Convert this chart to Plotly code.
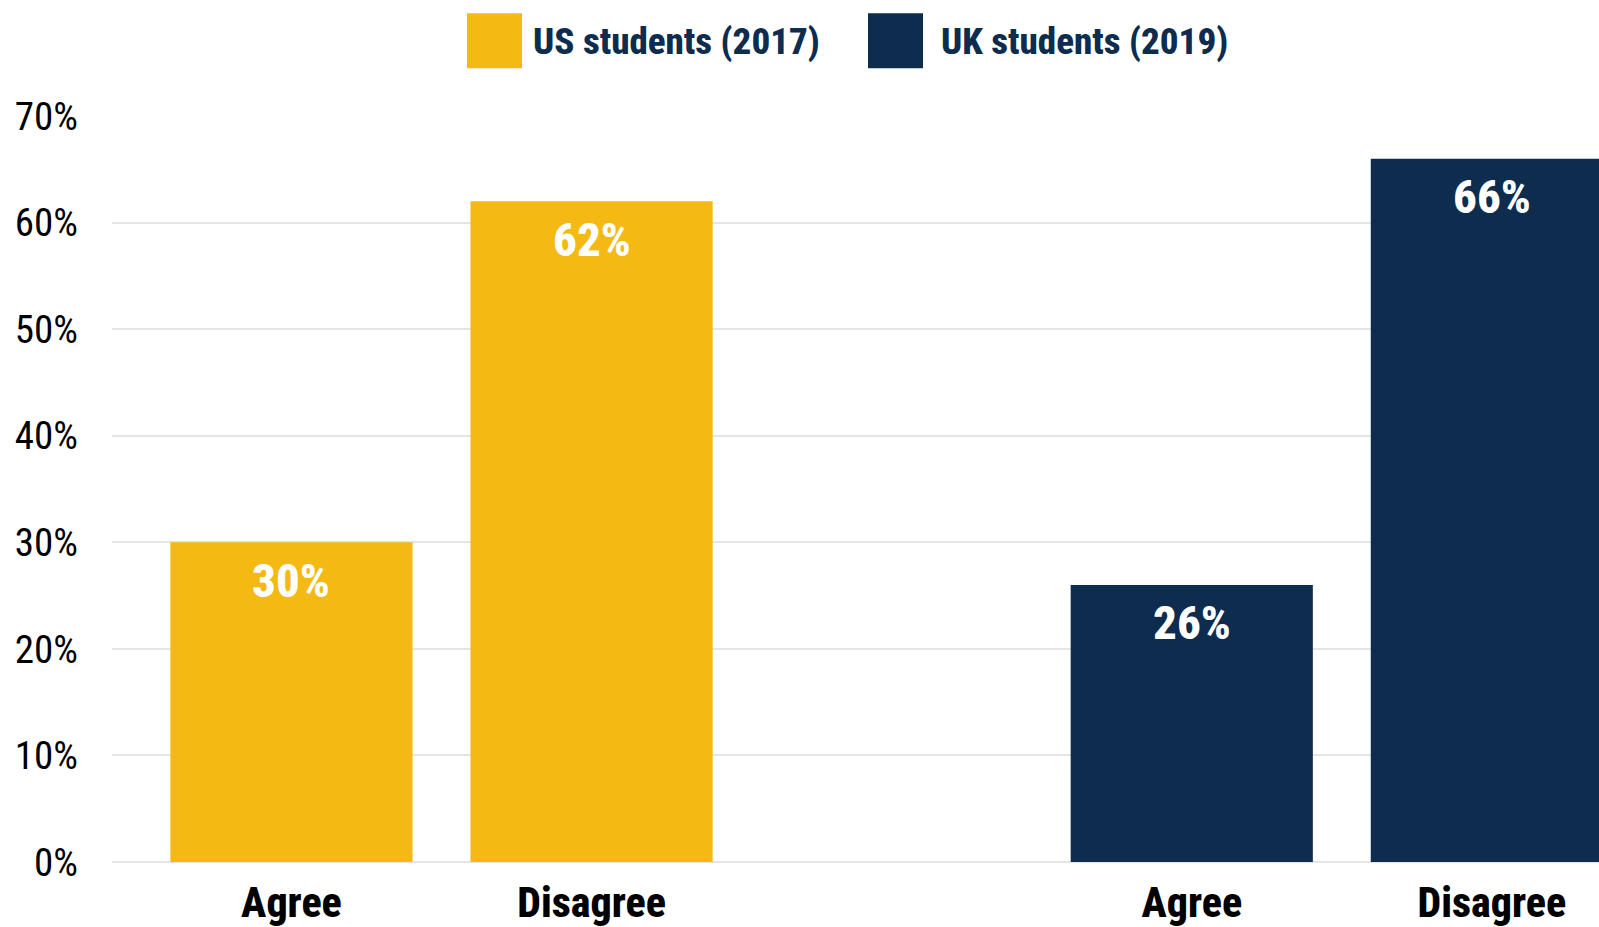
import plotly.graph_objects as go

# ---- data ----
categories = ["Agree", "Disagree"]
groups = ["US students (2017)", "UK students (2019)"]
us_values = [30, 62]
uk_values = [26, 66]
y_ticks = [0, 10, 20, 30, 40, 50, 60, 70]
y_tick_labels = [f"{v}%" for v in y_ticks]

colors = ["#F4B912", "#0D2C4E"]
series = [us_values, uk_values]

W, H = 1599, 927
ML, MR, MT, MB = 112, 0, 116, 63
PW, PH = W - ML - MR, H - MT - MB

def px_x(p):  # screen px -> paper
    return (p - ML) / PW

def px_y(p):
    return (H - MB - p) / PH

COND = "Roboto Condensed, Archivo Narrow, Asap Condensed, sans-serif"

fig = go.Figure()
tickvals, ticktext = [], []
annotations = []
for gi, (g, vals, c) in enumerate(zip(groups, series, colors)):
    xs = [gi * (len(categories) + 1) + ci for ci in range(len(categories))]
    tickvals += xs
    ticktext += categories
    fig.add_trace(go.Bar(
        x=xs, y=vals, name=g, marker=dict(color=c, line=dict(width=0)),
        width=0.807, showlegend=False, hoverinfo="y",
    ))
    for x, v in zip(xs, vals):
        annotations.append(dict(
            x=x, y=v, xref="x", yref="y", text=f"{v}%",
            showarrow=False, yanchor="middle", xanchor="center", yshift=-38,
            font=dict(family=COND, size=47, color="white", weight=800),
        ))

# manual legend (large square swatches)
legend_items = [(467, 531), (868, 939)]
shapes = []
for (sx, tx), g, c in zip(legend_items, groups, colors):
    shapes.append(dict(type="rect", xref="paper", yref="paper",
                       x0=px_x(sx), x1=px_x(sx + 55), y0=px_y(68), y1=px_y(13),
                       fillcolor=c, line=dict(width=0)))
    annotations.append(dict(
        x=px_x(tx), y=px_y(41), xref="paper", yref="paper", text=g,
        showarrow=False, xanchor="left", yanchor="middle",
        font=dict(family=COND, size=37, color="#0D2C4E", weight=800),
    ))

fig.update_layout(
    width=W, height=H,
    margin=dict(l=ML, r=MR, t=MT, b=MB, pad=0),
    plot_bgcolor="white", paper_bgcolor="white",
    shapes=shapes,
    annotations=annotations,
    xaxis=dict(
        range=[-0.598, 4.357], tickvals=tickvals, ticktext=ticktext,
        showgrid=False, zeroline=False, showline=False, ticks="",
        tickfont=dict(family=COND, size=42, color="black", weight=800),
        ticklabelstandoff=12,
    ),
    yaxis=dict(
        range=[0, 70], tickvals=y_ticks, ticktext=y_tick_labels,
        showgrid=True, gridcolor="#E5E5E5", gridwidth=2,
        zeroline=True, zerolinecolor="#E5E5E5", zerolinewidth=2,
        showline=False, ticks="",
        tickfont=dict(family=COND, size=39, color="black", weight=400),
        ticklabelstandoff=33,
    ),
)

fig.write_html(
    "out.html",
    config={"displayModeBar": False},
    post_script="document.body.style.margin='0';document.body.style.overflow='hidden';",
)
